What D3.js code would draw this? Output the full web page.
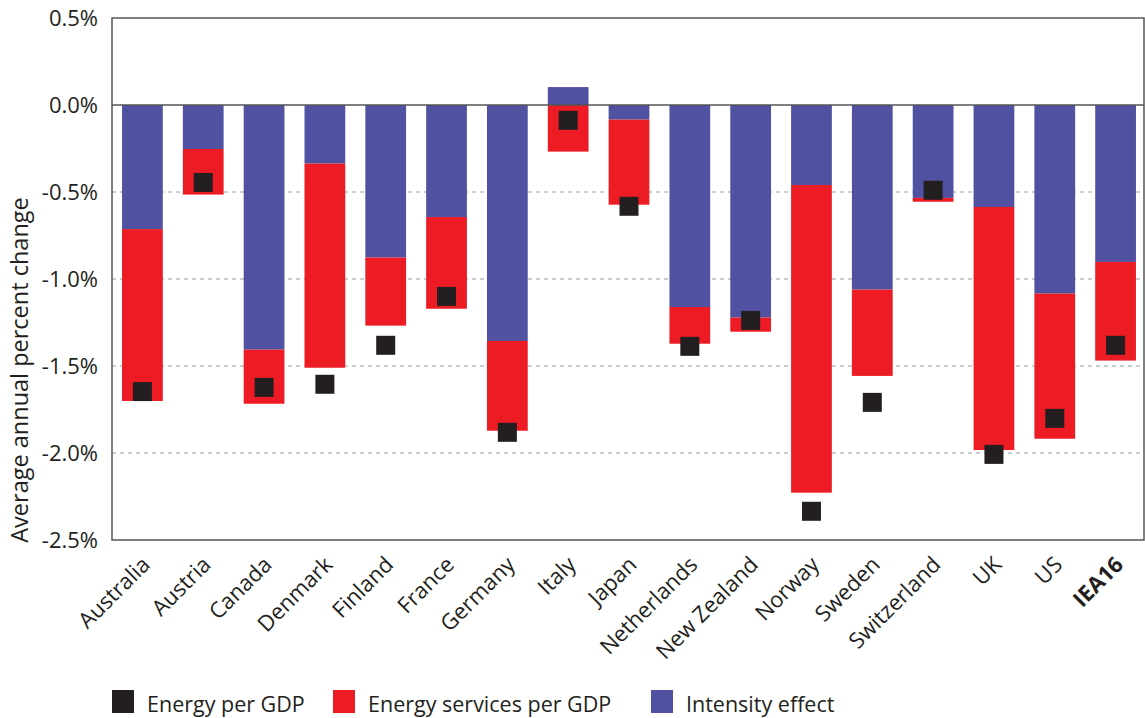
<!DOCTYPE html>
<html>
<head>
<meta charset="utf-8">
<script src="https://cdn.jsdelivr.net/npm/d3@7"></script>
<style>
  body { margin: 0; background: #fff; }
  text { font-family: "Open Sans", "DejaVu Sans", sans-serif; fill: #231f20; }
</style>
</head>
<body>
<svg id="chart" width="1145" height="718"></svg>
<script>
const categories = ["Australia","Austria","Canada","Denmark","Finland","France","Germany","Italy","Japan","Netherlands","New Zealand","Norway","Sweden","Switzerland","UK","US","IEA16"];
const intensityEffect = [-0.713,-0.253,-1.406,-0.337,-0.877,-0.644,-1.356,0.103,-0.084,-1.161,-1.222,-0.460,-1.061,-0.534,-0.586,-1.084,-0.902];
const servicesPerGDP = [-0.988,-0.262,-0.311,-1.173,-0.391,-0.527,-0.516,-0.268,-0.489,-0.211,-0.081,-1.768,-0.496,-0.022,-1.397,-0.834,-0.567];
const energyPerGDP = [-1.647,-0.445,-1.623,-1.605,-1.381,-1.100,-1.881,-0.088,-0.582,-1.387,-1.238,-2.335,-1.709,-0.490,-2.008,-1.801,-1.381];
const yTicks = [0.5,0.0,-0.5,-1.0,-1.5,-2.0,-2.5];
const seriesNames = ["Energy per GDP","Energy services per GDP","Intensity effect"];

const colors = { intensity: "#5151a2", services: "#ed1c24", energy: "#231f20" };

const svg = d3.select("#chart");
const L = 112, R = 1144, T = 18, B = 540;

const x = d3.scaleBand().domain(categories).range([L, 1146]).paddingInner(0.33).paddingOuter(0.165);
const y = d3.scaleLinear().domain([-2.5, 0.5]).range([B, T]);

// gridlines
svg.append("g").selectAll("line").data(yTicks.filter(v => v !== 0 && v !== 0.5 && v !== -2.5))
  .join("line")
  .attr("x1", L).attr("x2", R)
  .attr("y1", d => y(d)).attr("y2", d => y(d))
  .attr("stroke", "#bdbdbd").attr("stroke-width", 1.3).attr("stroke-dasharray", "4,4");

// stacked data
const table = categories.map((c, i) => ({ cat: c, intensity: intensityEffect[i], services: servicesPerGDP[i] }));
const stack = d3.stack().keys(["intensity", "services"]).offset(d3.stackOffsetDiverging);
const stacked = stack(table);

svg.append("g").selectAll("g").data(stacked).join("g")
  .attr("fill", d => colors[d.key])
  .selectAll("rect").data(d => d).join("rect")
  .attr("x", d => x(d.data.cat))
  .attr("width", x.bandwidth())
  .attr("y", d => y(Math.max(d[0], d[1])))
  .attr("height", d => Math.abs(y(d[0]) - y(d[1])));

// zero line
svg.append("line").attr("x1", L).attr("x2", R).attr("y1", y(0)).attr("y2", y(0))
  .attr("stroke", "#555").attr("stroke-width", 1.5);

// energy per GDP squares
const sq = 19;
svg.append("g").selectAll("rect").data(categories).join("rect")
  .attr("x", d => x(d) + x.bandwidth() / 2 - sq / 2)
  .attr("y", (d, i) => y(energyPerGDP[i]) - sq / 2)
  .attr("width", sq).attr("height", sq)
  .attr("fill", colors.energy);

// border
svg.append("rect").attr("x", L).attr("y", T).attr("width", R - L).attr("height", B - T)
  .attr("fill", "none").attr("stroke", "#555").attr("stroke-width", 1.5);

// y axis labels
const yAxis = d3.axisLeft(y).tickValues(yTicks).tickSize(0).tickPadding(14)
  .tickFormat(d => (d3.format(".1f")(d) + "%").replace("\u2212", "-"));
const ya = svg.append("g").attr("transform", `translate(${L},0)`).call(yAxis);
ya.select(".domain").remove();
ya.selectAll("text").style("font-size", "22px").style("font-family", '"Open Sans", sans-serif').attr("fill", "#231f20");

// y title
svg.append("text")
  .attr("transform", `translate(28, 370) rotate(-90)`)
  .attr("text-anchor", "middle")
  .style("font-size", "23.5px")
  .text("Average annual percent change");

// x axis labels
const xAxis = d3.axisBottom(x).tickSize(0).tickPadding(0);
const xa = svg.append("g").attr("transform", `translate(0,${B})`).call(xAxis);
xa.select(".domain").remove();
xa.selectAll("text")
  .attr("text-anchor", "end")
  .attr("dy", null)
  .attr("transform", "translate(9,26) rotate(-45)")
  .style("font-size", "22px")
  .style("font-family", '"Open Sans", sans-serif')
  .style("font-weight", d => d === "IEA16" ? "bold" : "normal")
  .attr("fill", "#231f20");

// legend
const legendItems = [
  { name: seriesNames[0], color: colors.energy, x: 112 },
  { name: seriesNames[1], color: colors.services, x: 333 },
  { name: seriesNames[2], color: colors.intensity, x: 651 }
];
const lg = svg.append("g").selectAll("g").data(legendItems).join("g")
  .attr("transform", d => `translate(${d.x},690)`);
lg.append("rect").attr("width", 22).attr("height", 23).attr("fill", d => d.color);
lg.append("text").attr("x", 35).attr("y", 22).style("font-size", "21.5px").text(d => d.name);
</script>
</body>
</html>
